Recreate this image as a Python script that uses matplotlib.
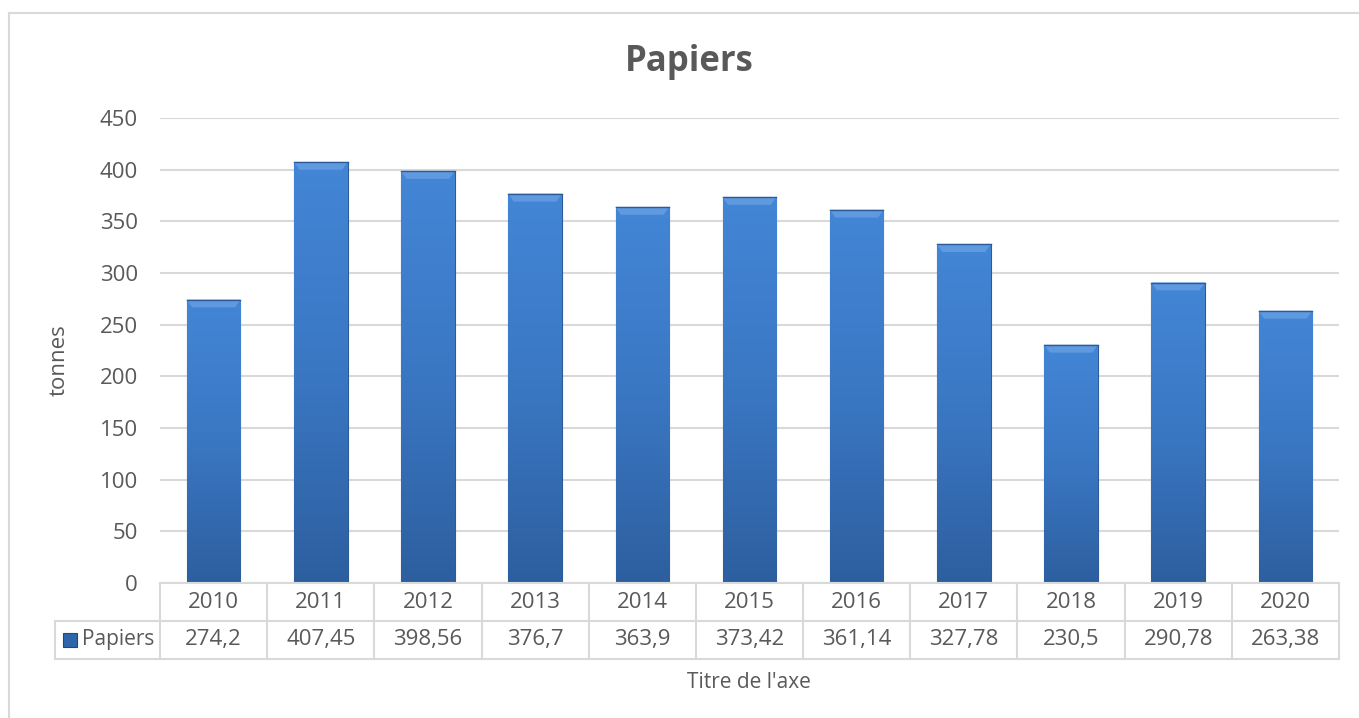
import numpy as np
import matplotlib
matplotlib.use("Agg")
import matplotlib.pyplot as plt
from matplotlib.patches import Rectangle
from matplotlib.lines import Line2D
from matplotlib.colors import LinearSegmentedColormap

plt.rcParams['font.family'] = ['Open Sans', 'DejaVu Sans']

years = ['2010', '2011', '2012', '2013', '2014', '2015', '2016', '2017', '2018', '2019', '2020']
papiers = [274.2, 407.45, 398.56, 376.7, 363.9, 373.42, 361.14, 327.78, 230.5, 290.78, 263.38]
labels = ['274,2', '407,45', '398,56', '376,7', '363,9', '373,42', '361,14', '327,78', '230,5', '290,78', '263,38']

txt = '#595959'
grid = '#d9d9d9'
fs = 16

fig = plt.figure(figsize=(13.59, 7.18), dpi=100)
ax = fig.add_axes([160/1359, 1-583/718, (1339-160)/1359, (583-118)/718])

x = np.arange(len(years))
bars = ax.bar(x, papiers, width=0.5, color='#3a75c0', edgecolor='#2b5b99', linewidth=0.8, zorder=2)

# shading like the excel bevel
cmap = LinearSegmentedColormap.from_list('bev', ['#2d5f9f', '#3a77c3', '#4386d6'])
grad = np.linspace(0, 1, 256).reshape(-1, 1)
for b in bars:
    x0, w, h = b.get_x(), b.get_width(), b.get_height()
    im = ax.imshow(grad, extent=(x0, x0 + w, 0, h), origin='lower', cmap=cmap,
                   aspect='auto', zorder=2.1)
    im.set_clip_path(b)
    cap = 7.5
    ax.fill([x0, x0 + w, x0 + w - 0.05, x0 + 0.05], [h, h, h - cap, h - cap],
            color='#5f9ae0', zorder=2.2, lw=0)
    ax.plot([x0, x0 + w], [h, h], color='#2b5b99', lw=1, zorder=2.3)

ax.set_xlim(-0.5, len(years) - 0.5)
ax.set_ylim(0, 450)
ax.set_yticks(range(0, 451, 50))
ax.yaxis.grid(True, color=grid, lw=1.5, zorder=0)
ax.set_axisbelow(True)
ax.set_xticks([])
ax.tick_params(axis='y', length=0, labelsize=fs, colors=txt, pad=16)
for s in ['top', 'right', 'left']:
    ax.spines[s].set_visible(False)
ax.spines['bottom'].set_color(grid)
ax.spines['bottom'].set_linewidth(1.5)

# data table under the plot
tr = ax.get_xaxis_transform()
r1 = -(621 - 583) / 465
r2 = -(659 - 583) / 465
left = -1.48
kw = dict(transform=tr, color=grid, lw=1.5, clip_on=False)
for i in range(len(years) + 1):
    ax.plot([i - 0.5, i - 0.5], [0, r2], **kw)
ax.plot([left, left], [r1, r2], **kw)
ax.plot([-0.5, len(years) - 0.5], [r1, r1], **kw)
ax.plot([left, -0.5], [r1, r1], **kw)
ax.plot([left, len(years) - 0.5], [r2, r2], **kw)
for i in range(len(years)):
    ax.text(i, r1 / 2, years[i], transform=tr, ha='center', va='center',
            fontsize=fs, color=txt, clip_on=False)
    ax.text(i, (r1 + r2) / 2, labels[i], transform=tr, ha='center', va='center',
            fontsize=fs, color=txt, clip_on=False)
ax.text(-1.225, (r1 + r2) / 2, 'Papiers', transform=tr, ha='left', va='center',
        fontsize=fs - 1, color=txt, clip_on=False)
ax.add_patch(Rectangle((-1.405, (r1 + r2) / 2 - 0.014), 0.13, 0.028, transform=tr,
                       facecolor='#2f65aa', edgecolor='#1f4a80', lw=0.8, clip_on=False))

fig.text(689/1359, 1-62/718, 'Papiers', ha='center', va='center', fontsize=25,
         fontweight='bold', color=txt)
fig.text(59/1359, 1-360/718, 'tonnes', ha='center', va='center', rotation=90,
         fontsize=fs, color=txt)
fig.text(749/1359, 1-683/718, "Titre de l'axe", ha='center', va='center',
         fontsize=fs - 1, color=txt)

# chart frame (left and top edges)
fig.add_artist(Line2D([9/1359, 9/1359], [0, 1-13/718], color=grid, lw=1.5))
fig.add_artist(Line2D([9/1359, 1], [1-13/718, 1-13/718], color=grid, lw=1.5))

fig.savefig('out.png', dpi=100)
